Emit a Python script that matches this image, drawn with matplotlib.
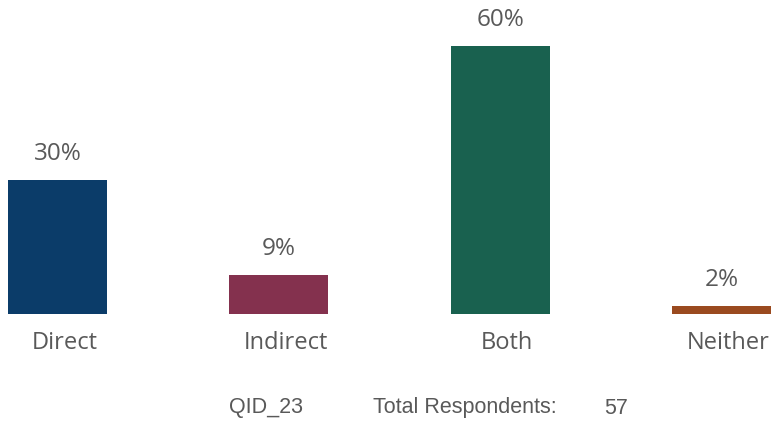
import matplotlib
matplotlib.use("Agg")
import matplotlib.pyplot as plt

categories = ["Direct", "Indirect", "Both", "Neither"]
counts = [17, 5, 34, 1]
total = 57
shares = [100 * c / total for c in counts]
labels = [f"{round(s):.0f}%" for s in shares]
colors = ["#0b3c69", "#84314e", "#19614f", "#9a4a1f"]

W, H = 7.71, 4.24
fig = plt.figure(figsize=(W, H), dpi=100)
ax = fig.add_axes([0, (424 - 314) / 424, 1, 314 / 424])
ax.set_xlim(-0.26, 3.224)
ax.set_ylim(0, 69.8)
ax.axis("off")

x = range(len(categories))
ax.bar(x, shares, width=0.447, color=colors, linewidth=0)

grey = "#595959"
font = ["Open Sans", "DejaVu Sans"]
for i, (s, lab) in enumerate(zip(shares, labels)):
    ax.annotate(lab, (i, s), xytext=(0, 26), textcoords="offset pixels",
                ha="center", va="center", fontsize=17.5, color=grey, family=font)
    ax.annotate(categories[i], (i, 0), xytext=(7, -29), textcoords="offset pixels",
                ha="center", va="center", fontsize=17, color=grey, family=font)

foot = ["Liberation Sans", "DejaVu Sans"]
fy = 1 - 408 / 424
fig.text(229 / 771, fy, "QID_23", ha="left", va="center", fontsize=15.5, color=grey, family=foot)
fig.text(373 / 771, fy, "Total Respondents:", ha="left", va="center", fontsize=15.5, color=grey, family=foot)
fig.text(604 / 771, fy, f"{total}", ha="left", va="center", fontsize=15.5, color=grey, family=foot)

fig.savefig("out.png", dpi=100, facecolor="white")
